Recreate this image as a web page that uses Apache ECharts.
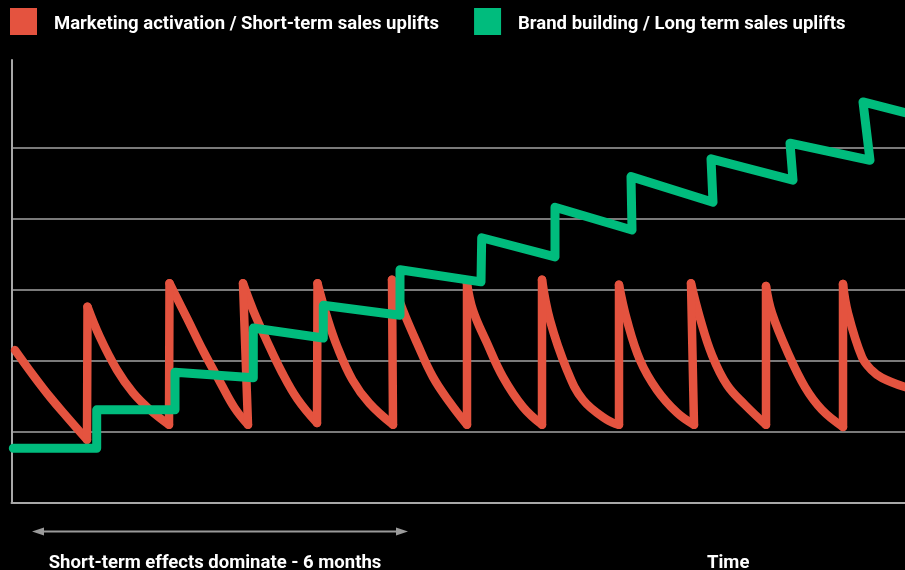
<!DOCTYPE html>
<html>
<head>
<meta charset="utf-8">
<script src="https://cdn.jsdelivr.net/npm/echarts@6/dist/echarts.min.js"></script>
<style>
html,body{margin:0;padding:0;background:#000;}
#chart{width:905px;height:570px;}
</style>
</head>
<body>
<div id="chart"></div>
<script>
// Series names
var seriesNames = ['Marketing activation / Short-term sales uplifts', 'Brand building / Long term sales uplifts'];

// Short-term (red) sawtooth, one decay curve per activation burst: [time, uplift]
var cycle0  = [[0.35,21.5],[2.15,18.0],[3.85,14.9],[5.55,12.1],[7.55,8.9]];
var cycle1  = [[7.6,27.6],[8.85,23.3],[10.55,18.7],[12.15,15.5],[13.85,13.1],[15.75,11.0]];
var cycle2  = [[15.8,30.9],[17.55,26.0],[19.2,21.3],[20.9,16.9],[22.3,13.4],[23.65,11.0]];
var cycle3  = [[23.15,30.9],[24.2,27.0],[25.5,22.9],[27.0,18.5],[28.6,14.6],[30.55,11.25]];
var cycle4  = [[30.6,30.9],[31.5,26.4],[32.6,21.9],[34.1,17.3],[35.8,14.0],[38.15,11.0]];
var cycle5  = [[38.05,31.4],[39.15,27.1],[40.55,22.5],[42.15,17.7],[43.85,14.1],[45.55,11.0]];
var cycle6  = [[45.55,30.9],[46.15,27.1],[47.55,22.5],[49.15,17.7],[51.15,13.5],[53.05,11.0]];
var cycle7  = [[53.05,31.4],[53.85,25.7],[55.55,18.7],[57.15,14.5],[59.55,11.7],[60.75,11.0]];
var cycle8  = [[60.75,30.7],[61.55,25.7],[62.85,20.1],[64.55,15.9],[66.55,12.7],[68.25,11.0]];
var cycle9  = [[67.95,30.9],[68.85,26.0],[70.05,20.8],[71.55,16.6],[73.35,13.8],[75.45,11.0]];
var cycle10 = [[75.45,30.5],[76.05,26.7],[77.65,21.1],[79.35,16.3],[81.05,13.1],[83.15,10.7]];
var cycle11 = [[83.15,30.8],[83.65,26.7],[85.05,20.5],[86.0,18.7],[87.05,17.6],[89.35,16.3]];
var shortTermCycles = [cycle0, cycle1, cycle2, cycle3, cycle4, cycle5, cycle6, cycle7, cycle8, cycle9, cycle10, cycle11];

// Long-term (green) stepped line: [time, uplift]
var longTermData = [
  [0.18,7.7],[8.52,7.7],[8.52,13.1],[16.35,13.1],[16.35,18.4],
  [24.18,17.6],[24.18,24.6],[31.18,23.2],[31.18,27.8],[38.85,26.4],
  [38.85,32.8],[46.95,31.1],[47.02,37.3],[54.35,34.6],[54.35,41.6],
  [62.05,38.4],[61.95,45.9],[70.15,42.3],[69.95,48.4],[78.15,45.4],
  [77.85,50.6],[85.85,48.2],[85.15,56.4],[89.35,54.9]
];

// Axis extents
var xRange = [0, 89.35];
var yRange = [0, 62.3];
var yInterval = 10;

// Annotation texts
var spanLabel = 'Short-term effects dominate - 6 months';
var timeLabel = 'Time';

var RED = '#E4533F';
var GREEN = '#00BC7D';
var FONT = 'bold 18.5px Roboto';
var chart = echarts.init(document.getElementById('chart'), null, {renderer: 'canvas'});

var gridColor = '#7a7a7a';
var redStyle = {color: RED, width: 8.5, cap: 'round', join: 'round'};

var series = [];
// decay curves
shortTermCycles.forEach(function (c) {
  series.push({
    name: seriesNames[0], type: 'line', data: c, smooth: 0.4,
    showSymbol: false, symbol: 'none', lineStyle: redStyle, itemStyle: {color: RED}, z: 2
  });
});
// vertical jumps between bursts (trough -> next peak)
for (var i = 0; i < shortTermCycles.length - 1; i++) {
  var a = shortTermCycles[i], b = shortTermCycles[i + 1];
  series.push({
    name: seriesNames[0], type: 'line', data: [a[a.length - 1], b[0]],
    showSymbol: false, symbol: 'none', lineStyle: redStyle, itemStyle: {color: RED}, z: 2
  });
}
series.push({
  name: seriesNames[1], type: 'line', data: longTermData,
  showSymbol: false, symbol: 'none',
  lineStyle: {color: GREEN, width: 9, cap: 'round', join: 'round'},
  itemStyle: {color: GREEN}, z: 3
});

var option = {
  backgroundColor: '#000',
  animation: false,
  legend: {
    left: 10,
    top: 8,
    padding: 0,
    itemWidth: 27,
    itemHeight: 33,
    itemGap: 35,
    icon: 'path://M0,0L27,0L27,27L0,27Z M0,33L27,33',
    symbolKeepAspect: false,
    itemStyle: {borderWidth: 0},
    lineStyle: {width: 0},
    textStyle: {
      color: '#fff',
      fontFamily: 'Roboto',
      fontWeight: 'bold',
      fontSize: 18.5,
      padding: [0, 0, 0, 12]
    },
    data: [
      {name: seriesNames[0], itemStyle: {color: RED}},
      {name: seriesNames[1], itemStyle: {color: GREEN}}
    ]
  },
  grid: {left: 11.5, right: 0, top: 60, bottom: 67, containLabel: false},
  xAxis: {
    type: 'value',
    min: xRange[0], max: xRange[1],
    axisLine: {show: true, onZero: false, lineStyle: {color: '#a8a8a8', width: 2}},
    axisTick: {show: false},
    axisLabel: {show: false},
    splitLine: {show: false}
  },
  yAxis: {
    type: 'value',
    min: yRange[0], max: yRange[1], interval: yInterval,
    axisLine: {show: true, lineStyle: {color: '#a8a8a8', width: 2}},
    axisTick: {show: false},
    axisLabel: {show: false},
    splitLine: {
      show: true,
      lineStyle: {
        width: 2,
        color: [gridColor, gridColor, gridColor, gridColor, gridColor, gridColor, 'rgba(0,0,0,0)', 'rgba(0,0,0,0)']
      }
    }
  },
  series: series,
  graphic: [
    {type: 'line', shape: {x1: 40, y1: 531.5, x2: 400, y2: 531.5}, style: {stroke: '#9a9a9a', lineWidth: 2}},
    {type: 'polygon', shape: {points: [[32, 531.5], [44, 527.5], [44, 535.5]]}, style: {fill: '#9a9a9a'}},
    {type: 'polygon', shape: {points: [[408, 531.5], [396, 527.5], [396, 535.5]]}, style: {fill: '#9a9a9a'}},
    {type: 'text', x: 215, y: 563, style: {text: spanLabel, fill: '#fff', font: FONT, textAlign: 'center', textVerticalAlign: 'middle'}},
    {type: 'text', x: 707, y: 563, style: {text: timeLabel, fill: '#fff', font: FONT, textAlign: 'left', textVerticalAlign: 'middle'}}
  ]
};
chart.setOption(option);
</script>
</body>
</html>
